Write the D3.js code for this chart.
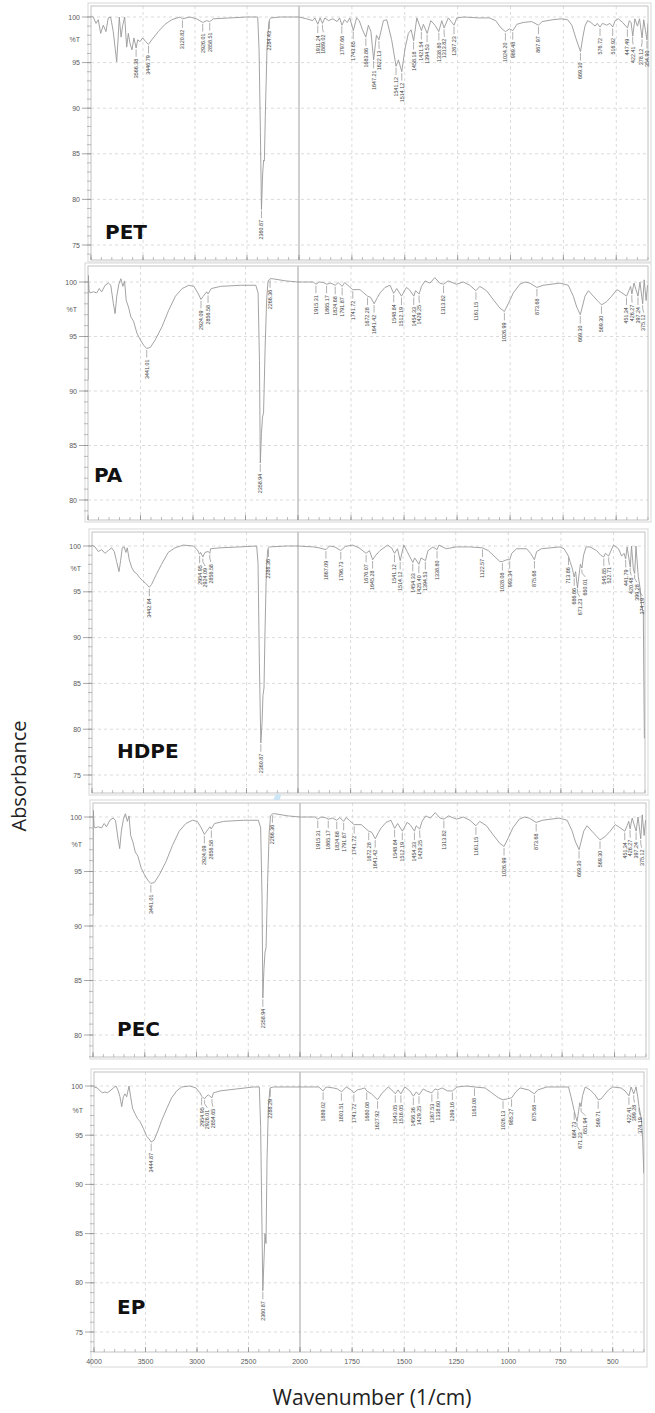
<!DOCTYPE html>
<html><head><meta charset="utf-8">
<script src="https://cdn.jsdelivr.net/npm/d3@7"></script>
<style>body{margin:0;background:#fff}svg{display:block}</style>
</head><body>
<svg id="chart" width="655" height="1413"></svg>
<script>
// ---------- DATA ----------
const panelNames = ["PET", "PA", "HDPE", "PEC", "EP"];
const xTickLabels = [4000, 3500, 3000, 2500, 2000, 1750, 1500, 1250, 1000, 750, 500];
const yTicksPET = [100, 95, 90, 85, 80, 75];
const yTicksPA = [100, 95, 90, 85, 80];
const yTicksHDPE = [100, 95, 90, 85, 80, 75];
const yTicksPEC = [100, 95, 90, 85, 80];
const yTicksEP = [100, 95, 90, 85, 80, 75];

const petSpectrum = [[4000,100.1],[3978,100.0],[3952,99.3],[3930,99.7],[3907,98.2],[3882,99.1],[3856,98.4],[3834,99.9],[3811,100.0],[3786,98.4],[3766,96.4],[3753,95.1],[3740,97.5],[3728,100.0],[3711,97.8],[3695,99.1],[3676,100.0],[3657,96.7],[3641,98.2],[3625,97.1],[3606,96.4],[3587,97.7],[3566,96.6],[3551,97.5],[3529,97.3],[3503,97.7],[3474,97.3],[3447,97.0],[3416,97.5],[3353,98.4],[3288,99.2],[3224,99.7],[3144,100.0],[3121,99.8],[3048,100.0],[2984,99.8],[2926,99.4],[2888,99.6],[2858,99.5],[2824,99.8],[2663,99.9],[2502,100.0],[2397,100.0],[2384,96.4],[2371,87.3],[2361,78.9],[2349,82.9],[2340,84.3],[2333,84.2],[2324,89.1],[2308,96.4],[2291,99.3],[2284,99.7],[2272,99.9],[2182,100.0],[2000,100.0],
[1964,99.8],[1935,99.6],[1925,99.9],[1911,99.2],[1900,99.9],[1889,99.3],[1878,99.9],[1860,99.6],[1840,99.8],[1820,99.5],[1808,99.9],[1797,99.1],[1785,99.7],[1772,99.4],[1760,99.9],[1743,98.5],[1728,99.9],[1715,99.6],[1700,98.6],[1684,97.8],[1672,99.1],[1660,98.4],[1647,95.3],[1634,98.0],[1622,97.5],[1601,99.6],[1585,99.7],[1562,97.5],[1541,94.6],[1530,95.3],[1514,94.0],[1499,96.5],[1483,98.2],[1470,98.6],[1458,97.4],[1443,99.9],[1421,98.5],[1412,99.2],[1394,98.2],[1377,99.6],[1357,99.1],[1339,98.4],[1325,99.6],[1314,98.8],[1294,99.9],[1267,99.1],[1254,99.9],[1220,100.0],[1150,99.9],[1100,99.9],[1070,99.6],[1045,98.8],[1024,98.4],[1005,98.7],[989,98.5],[970,99.2],[940,99.4],[900,99.5],[868,99.1],[850,99.5],[800,99.7],[760,99.8],[730,99.7],[710,99.1],[690,97.6],[669,96.2],[658,97.8],[648,99.0],[636,99.6],[620,99.4],[600,99.0],[590,99.3],[577,98.9],[565,99.3],[545,99.1],[530,99.3],[517,98.9],[505,99.6],[490,99.8],[470,99.4],[447,98.8],[438,99.6],[430,99.4],[422,97.9],[412,99.8],[400,99.0],[390,99.8],[378,97.7],[370,99.7],[362,98.5],[355,97.5],[350,99.3]];
const petPeaks = ["3566.38","3446.79","3120.82","2926.01","2858.51","2360.87","2284.43","1911.24","1889.02","1797.66","1743.65","1683.86","1647.21","1622.13","1541.12","1514.12","1458.18","1421.54","1394.53","1338.80","1313.82","1267.23","1024.20","989.48","867.97","669.30","576.72","516.92","447.49","422.41","378.12","354.90"];

const paSpectrum = [[4000,91.0],[3997,100.6],[3990,99.2],[3981,99.0],[3949,99.1],[3917,99.0],[3892,99.4],[3870,99.1],[3837,99.7],[3806,99.9],[3783,99.7],[3758,98.0],[3742,97.1],[3726,98.7],[3706,99.8],[3687,100.3],[3668,99.6],[3652,100.1],[3636,98.3],[3614,97.7],[3592,96.8],[3566,96.4],[3534,95.3],[3502,94.7],[3470,94.2],[3441,93.9],[3406,94.0],[3359,94.7],[3295,95.9],[3232,97.4],[3167,98.7],[3103,99.4],[3040,99.7],[2992,99.6],[2954,99.0],[2924,98.4],[2902,98.7],[2870,99.1],[2857,98.9],[2826,99.4],[2737,99.6],[2545,99.7],[2402,99.7],[2380,99.0],[2367,92.8],[2359,83.4],[2348,86.1],[2338,87.6],[2328,88.0],[2313,94.0],[2298,98.5],[2285,100.1],[2266,100.3],[2243,100.3],[2115,100.1],[2000,100.0],
[1928,100.0],[1915,99.8],[1900,100.0],[1880,99.95],[1865,99.8],[1845,99.9],[1825,99.7],[1810,99.95],[1792,99.6],[1780,99.95],[1765,99.7],[1742,99.3],[1708,99.3],[1690,99.0],[1672,98.7],[1658,98.6],[1641,98.0],[1625,98.6],[1613,99.0],[1590,99.5],[1566,99.7],[1549,98.96],[1534,99.4],[1512,98.7],[1489,99.5],[1475,99.3],[1454,98.7],[1446,99.2],[1429,98.9],[1418,99.6],[1401,100.1],[1378,99.9],[1355,100.4],[1332,99.9],[1314,99.8],[1292,100.1],[1253,99.8],[1221,100.0],[1190,99.7],[1161,99.2],[1143,99.6],[1111,99.2],[1080,98.4],[1048,97.6],[1027,97.3],[1009,98.0],[985,99.0],[954,99.8],[930,100.0],[907,99.9],[874,99.5],[844,99.7],[765,99.9],[726,99.7],[702,98.7],[686,97.7],[669,97.0],[660,97.7],[647,98.7],[631,99.2],[608,98.7],[584,98.2],[569,97.9],[545,98.2],[521,98.7],[497,99.3],[480,99.1],[451,98.7],[440,99.2],[432,99.6],[426,98.9],[416,99.9],[397,98.7],[388,100.0],[375,98.0],[368,100.2],[359,98.3],[352,99.7]];
const paPeaks = ["3441.01","2924.09","2856.58","2358.94","2266.36","1915.31","1865.17","1824.68","1791.87","1741.72","1672.28","1641.42","1548.84","1512.19","1454.33","1429.25","1313.82","1161.15","1026.99","873.68","669.30","569.30","451.34","426.27","397.24","375.12"];

const hdpeSpectrum = [[4000,100.1],[3971,99.9],[3939,99.4],[3906,99.6],[3874,99.2],[3842,99.5],[3810,99.8],[3784,99.4],[3761,98.3],[3738,97.2],[3722,98.4],[3706,99.8],[3687,99.9],[3671,99.3],[3658,99.8],[3638,98.5],[3616,97.7],[3593,97.2],[3567,97.0],[3541,96.6],[3509,96.2],[3477,95.9],[3443,95.5],[3422,95.8],[3380,96.8],[3325,98.0],[3260,99.3],[3195,99.8],[3114,100.1],[3017,100.0],[2978,99.6],[2955,99.1],[2945,99.3],[2924,98.8],[2903,99.3],[2871,99.4],[2857,99.2],[2848,99.7],[2758,99.8],[2564,99.9],[2401,100.0],[2388,98.1],[2375,87.2],[2361,78.5],[2349,80.7],[2340,83.7],[2330,84.5],[2320,90.8],[2307,97.4],[2294,99.6],[2286,99.8],[2278,99.9],[2110,100.0],[2000,100.0],
[1927,99.9],[1900,99.8],[1867,99.6],[1850,100.0],[1825,99.9],[1797,99.5],[1775,99.95],[1740,100.1],[1710,99.8],[1676,99.2],[1660,99.5],[1645,98.5],[1630,99.0],[1610,99.5],[1574,100.1],[1555,99.8],[1541,99.2],[1527,99.7],[1514,98.4],[1497,100.1],[1481,99.4],[1454,98.2],[1445,98.7],[1425,98.0],[1415,98.7],[1394,98.4],[1382,99.5],[1358,99.9],[1339,99.6],[1330,100.1],[1295,99.7],[1247,99.9],[1184,99.9],[1123,99.8],[1095,99.5],[1063,98.8],[1040,98.3],[1028,98.3],[1008,98.5],[993,98.5],[984,99.2],[960,99.7],[913,99.7],[894,99.2],[876,98.5],[865,99.4],[842,99.7],[754,99.9],[735,99.7],[714,98.9],[705,98.2],[695,97.5],[687,96.6],[680,97.2],[671,95.4],[664,96.8],[657,98.0],[650,97.6],[642,99.0],[630,99.9],[612,99.9],[580,99.5],[561,99.0],[546,98.8],[538,99.2],[523,98.9],[500,100.1],[476,99.7],[461,98.9],[450,99.2],[442,98.6],[435,99.9],[420,97.7],[414,100.0],[405,97.4],[399,97.0],[393,100.0],[382,96.7],[374,95.5],[366,93.4],[358,92.7],[353,79.0]];
const hdpePeaks = ["3442.84","2954.95","2924.09","2856.58","2360.87","2286.36","1867.09","1796.73","1676.07","1645.28","1541.12","1514.12","1454.33","1425.40","1394.53","1338.80","1122.57","1028.08","993.34","875.68","713.86","686.66","671.23","650.01","545.85","522.71","441.79","420.48","399.28","374.19"];

// PEC spectrum reads identical to the PA trace in the picture
const pecSpectrum = paSpectrum.map(d => d.slice());
const pecPeaks = paPeaks.slice();

const epSpectrum = [[4000,99.9],[3967,99.8],[3942,99.5],[3916,99.3],[3893,99.4],[3871,99.3],[3845,99.5],[3812,99.8],[3786,100.0],[3764,99.5],[3748,98.9],[3731,97.9],[3715,98.9],[3699,99.2],[3683,98.9],[3660,100.0],[3644,98.9],[3625,97.7],[3602,97.2],[3579,96.7],[3554,96.4],[3521,95.7],[3489,94.9],[3456,94.5],[3445,94.3],[3417,94.5],[3385,95.3],[3343,96.5],[3294,97.7],[3246,98.8],[3197,99.5],[3149,99.9],[3068,100.0],[3010,99.8],[2971,99.3],[2955,98.96],[2940,98.8],[2926,98.7],[2913,98.9],[2890,99.1],[2855,98.8],[2841,99.3],[2777,99.5],[2615,99.7],[2453,99.9],[2395,99.9],[2382,95.8],[2369,85.6],[2361,79.2],[2350,82.2],[2340,85.0],[2330,84.0],[2320,92.5],[2307,97.9],[2291,99.8],[2259,99.9],[2000,99.9],
[1936,99.9],[1910,99.9],[1889,99.5],[1875,99.9],[1840,99.8],[1820,99.7],[1801,99.4],[1778,99.9],[1754,99.6],[1742,99.3],[1725,99.6],[1705,99.7],[1689,99.8],[1680,99.5],[1657,99.2],[1628,98.6],[1609,99.2],[1577,99.9],[1560,99.6],[1543,99.2],[1530,99.6],[1516,99.2],[1497,99.9],[1473,99.5],[1456,98.96],[1442,99.4],[1429,99.1],[1409,99.7],[1393,99.5],[1368,99.3],[1352,99.7],[1339,99.6],[1319,99.8],[1292,99.5],[1269,99.5],[1247,99.9],[1200,100.0],[1163,99.9],[1112,99.8],[1080,99.3],[1048,98.8],[1026,98.6],[1005,98.7],[985,98.8],[965,99.4],[944,99.8],[904,99.6],[876,99.2],[860,99.6],[816,99.9],[752,99.9],[712,99.9],[700,98.9],[685,97.5],[678,96.9],[671,96.4],[664,97.4],[658,98.3],[652,97.9],[645,99.0],[632,99.9],[608,99.6],[585,99.1],[570,98.6],[555,98.7],[540,99.1],[520,99.6],[500,99.9],[460,99.8],[441,99.5],[422,99.0],[412,99.9],[399,99.2],[388,99.9],[380,98.9],[374,97.9],[362,96.6],[356,94.5],[351,91.1]];
const epPeaks = ["3444.87","2954.95","2926.01","2854.65","2360.87","2288.29","1889.02","1801.51","1741.72","1680.08","1627.92","1543.05","1516.05","1456.36","1429.25","1367.53","1338.60","1269.16","1163.08","1026.13","985.27","875.68","684.73","671.23","651.94","569.71","422.41","399.28","374.19"];

// ---------- LAYOUT (pixel geometry of each pasted panel) ----------
const layout = [
  {x4000:91, x2000:299, xEnd:648, top:6,    bottom:260,  y100:17,   yLow:245,  low:75, nameX:105, nameY:239},
  {x4000:88, x2000:298, xEnd:648, top:266,  bottom:520,  y100:282,  yLow:500,  low:80, nameX:94,  nameY:482},
  {x4000:92, x2000:298, xEnd:645, top:532,  bottom:793,  y100:546,  yLow:775,  low:75, nameX:117, nameY:758},
  {x4000:93, x2000:300, xEnd:646, top:803,  bottom:1057, y100:817,  yLow:1035, low:80, nameX:117, nameY:1036},
  {x4000:94, x2000:300, xEnd:644, top:1072, bottom:1352, y100:1086, yLow:1332, low:75, nameX:117, nameY:1314}
];
const spectra = [petSpectrum, paSpectrum, hdpeSpectrum, pecSpectrum, epSpectrum];
const peaks = [petPeaks, paPeaks, hdpePeaks, pecPeaks, epPeaks];
const yTicks = [yTicksPET, yTicksPA, yTicksHDPE, yTicksPEC, yTicksEP];

const svg = d3.select("#chart");
const defs = svg.append("defs");
const LBL = "'Liberation Sans Narrow','Arial Narrow','Liberation Sans',Arial,sans-serif";
const TICKF = "'Liberation Sans',Arial,sans-serif";

function interp(spec, wn) {
  for (let i = 0; i < spec.length - 1; i++) {
    const a = spec[i], b = spec[i + 1];
    if (wn <= a[0] && wn >= b[0]) {
      const t = (a[0] - wn) / (a[0] - b[0] || 1);
      return a[1] + t * (b[1] - a[1]);
    }
  }
  return spec[spec.length - 1][1];
}

panelNames.forEach((name, i) => {
  const L = layout[i];
  const spec = spectra[i];
  const x = d3.scaleLinear().domain([4000, 2000, 350]).range([L.x4000, L.x2000, L.xEnd]);
  const y = d3.scaleLinear().domain([L.low, 100]).range([L.yLow, L.y100]);
  const g = svg.append("g");
  const isLast = i === panelNames.length - 1;

  // outer pasted-image border
  g.append("rect").attr("x", L.x4000 - 3).attr("y", L.top - 3)
    .attr("width", L.xEnd - L.x4000 + 6).attr("height", L.bottom - L.top + (isLast ? 18 : 5))
    .attr("fill", "none").attr("stroke", "#dedede").attr("stroke-width", 1.2);

  // grid lines
  const gridX = xTickLabels.filter(v => v !== 4000 && v !== 2000);
  g.selectAll(".gx").data(gridX).join("line")
    .attr("x1", d => x(d)).attr("x2", d => x(d)).attr("y1", L.top).attr("y2", L.bottom)
    .attr("stroke", "#d2d2d2").attr("stroke-width", 0.8).attr("stroke-dasharray", "3,3");
  const gridY = yTicks[i];
  g.selectAll(".gy").data(gridY).join("line")
    .attr("x1", L.x4000).attr("x2", L.xEnd).attr("y1", d => y(d)).attr("y2", d => y(d))
    .attr("stroke", "#d2d2d2").attr("stroke-width", 0.8).attr("stroke-dasharray", "3,3");
  g.append("line").attr("x1", x(2000)).attr("x2", x(2000)).attr("y1", L.top).attr("y2", L.bottom)
    .attr("stroke", "#a0a0a0").attr("stroke-width", 1);

  // frame
  g.append("rect").attr("x", L.x4000).attr("y", L.top)
    .attr("width", L.xEnd - L.x4000).attr("height", L.bottom - L.top)
    .attr("fill", "none").attr("stroke", "#c2c2c2").attr("stroke-width", 1);

  // y ticks
  const yMin = Math.ceil(y.invert(L.bottom));
  const minorY = d3.range(yMin, 101, 1);
  g.selectAll(".ym").data(minorY).join("line")
    .attr("x1", L.x4000 - 4).attr("x2", L.x4000).attr("y1", d => y(d)).attr("y2", d => y(d))
    .attr("stroke", "#a0a0a0").attr("stroke-width", 0.7);
  g.selectAll(".yM").data(gridY).join("line")
    .attr("x1", L.x4000 - 9).attr("x2", L.x4000).attr("y1", d => y(d)).attr("y2", d => y(d))
    .attr("stroke", "#909090").attr("stroke-width", 0.8);
  g.selectAll(".yl").data(gridY).join("text")
    .attr("x", L.x4000 - 11).attr("y", d => y(d) + 2.5).attr("text-anchor", "end")
    .attr("font-family", TICKF).attr("font-size", 7).attr("fill", "#5a5a5a").text(d => d);
  g.append("text").attr("x", L.x4000 - 11).attr("y", y(97.5) + 2.5).attr("text-anchor", "end")
    .attr("font-family", TICKF).attr("font-size", 7).attr("fill", "#5a5a5a").text("%T");

  // x ticks (inward)
  const minorX = d3.range(4000, 2000, -100).concat(d3.range(2000, 349, -50));
  g.selectAll(".xm").data(minorX).join("line")
    .attr("x1", d => x(d)).attr("x2", d => x(d)).attr("y1", L.bottom).attr("y2", L.bottom - 3)
    .attr("stroke", "#a0a0a0").attr("stroke-width", 0.7);
  g.selectAll(".xM").data(xTickLabels).join("line")
    .attr("x1", d => x(d)).attr("x2", d => x(d)).attr("y1", L.bottom).attr("y2", L.bottom - 5)
    .attr("stroke", "#909090").attr("stroke-width", 0.8);
  if (isLast) {
    g.selectAll(".xl").data(xTickLabels).join("text")
      .attr("x", d => x(d)).attr("y", L.bottom + 12).attr("text-anchor", "middle")
      .attr("font-family", TICKF).attr("font-size", 7).attr("fill", "#5a5a5a").text(d => d);
  }

  // spectrum
  const cid = "clip" + i;
  defs.append("clipPath").attr("id", cid).append("rect")
    .attr("x", L.x4000).attr("y", L.top).attr("width", L.xEnd - L.x4000).attr("height", L.bottom - L.top);
  g.append("path").datum(spec).attr("clip-path", `url(#${cid})`)
    .attr("d", d3.line().x(d => x(d[0])).y(d => y(d[1])))
    .attr("fill", "none").attr("stroke", "#999").attr("stroke-width", 0.9);

  // peak labels with leaders, spread to avoid overlap
  const items = peaks[i].map(s => {
    const wn = +s;
    return {s, px: x(wn), py: y(interp(spec, wn))};
  }).sort((a, b) => a.px - b.px);
  const gap = 5.6;
  items.forEach((d, k) => { d.tx = d.px; if (k > 0) d.tx = Math.max(d.tx, items[k - 1].tx + gap); });
  const over = items.length ? items[items.length - 1].tx - (L.xEnd - 1) : 0;
  if (over > 0) {
    for (let k = items.length - 1; k >= 0; k--) {
      const lim = k === items.length - 1 ? L.xEnd - 1 : items[k + 1].tx - gap;
      items[k].tx = Math.min(items[k].tx, lim);
    }
  }
  g.selectAll(".ld").data(items).join("path")
    .attr("d", d => `M${d.px},${d.py + 1.5}L${d.px},${d.py + 5}L${d.tx},${d.py + 9}`)
    .attr("fill", "none").attr("stroke", "#7a7a7a").attr("stroke-width", 0.6);
  g.selectAll(".pl").data(items).join("text")
    .attr("transform", d => `translate(${d.tx + 1.9},${d.py + 11})rotate(-90)`)
    .attr("text-anchor", "end").attr("font-family", LBL).attr("font-size", 5.4)
    .attr("fill", "#444").text(d => d.s);

  // panel name
  g.append("text").attr("x", L.nameX).attr("y", L.nameY)
    .attr("font-family", "'DejaVu Sans',Verdana,sans-serif").attr("font-weight", "bold")
    .attr("font-size", 20).attr("fill", "#111").text(name);
});

// small light-blue artifact between HDPE and PEC
svg.append("path").attr("d", "M273,800L276,794L281,794L280,800Z").attr("fill", "#cde6f5");

// axis titles
svg.append("text").attr("x", 372).attr("y", 1405).attr("text-anchor", "middle")
  .attr("font-family", "'Open Sans',Lato,sans-serif").attr("font-size", 21).attr("fill", "#222")
  .text("Wavenumber (1/cm)");
svg.append("text").attr("transform", "translate(26,776)rotate(-90)").attr("text-anchor", "middle")
  .attr("font-family", "'Open Sans',Lato,sans-serif").attr("font-size", 20).attr("fill", "#222")
  .text("Absorbance");
</script>
</body></html>
